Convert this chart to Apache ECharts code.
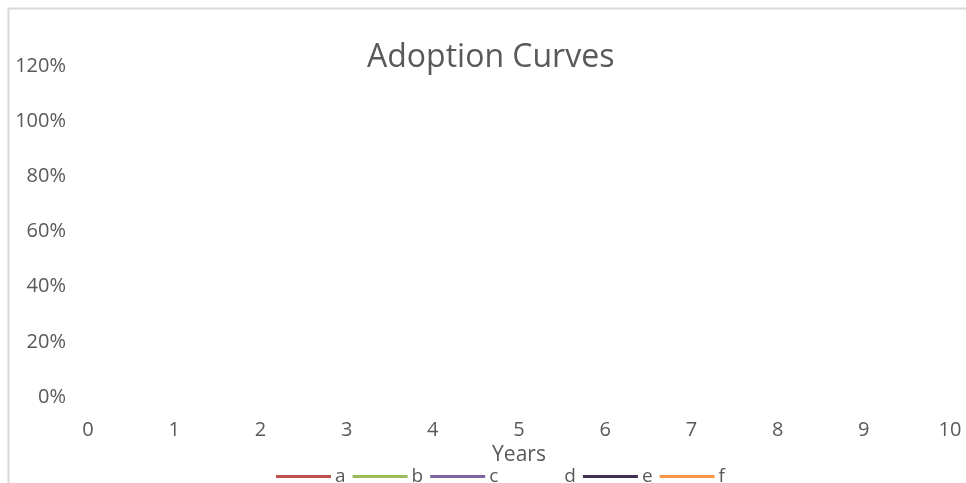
<!DOCTYPE html>
<html>
<head>
<meta charset="utf-8">
<style>
  html, body { margin: 0; padding: 0; background: #ffffff; }
  #chart { width: 966px; height: 483px; }
</style>
<script src="https://cdn.jsdelivr.net/npm/echarts@6/dist/echarts.min.js"></script>
</head>
<body>
<div id="chart"></div>
<script>
// Chart content (the reference plot shows no plotted points)
const titleText = 'Adoption Curves';
const xAxisName = 'Years';
const xTicks = [0, 1, 2, 3, 4, 5, 6, 7, 8, 9, 10];
const yTicks = [0, 0.2, 0.4, 0.6, 0.8, 1.0, 1.2];
const seriesNames = ['a', 'b', 'c', 'd', 'e', 'f'];
const seriesA = [];
const seriesB = [];
const seriesC = [];
const seriesD = [];
const seriesE = [];
const seriesF = [];
const seriesValues = [seriesA, seriesB, seriesC, seriesD, seriesE, seriesF];
const seriesColors = ['#c0504d', '#9bbb59', '#8064a2', 'rgba(255,255,255,0)', '#403152', '#f79646'];

const FONT = 'Open Sans';
const TXT = '#595959';

const chart = echarts.init(document.getElementById('chart'), null, { renderer: 'canvas' });

const series = seriesNames.map((name, i) => ({
  name: name,
  type: 'line',
  showSymbol: false,
  symbol: 'none',
  data: seriesValues[i],
  lineStyle: { color: seriesColors[i], width: 3 },
  itemStyle: { color: seriesColors[i] }
}));

chart.setOption({
  animation: false,
  backgroundColor: '#ffffff',
  graphic: [{
    type: 'rect',
    shape: { x: 8.5, y: 8.5, width: 1200, height: 1200 },
    style: { fill: 'none', stroke: '#d9d9d9', lineWidth: 2 },
    silent: true,
    z: -1
  }],
  title: {
    text: titleText,
    left: 367,
    top: 42,
    padding: 0,
    textStyle: { fontFamily: FONT, fontSize: 32, fontWeight: 'normal', color: TXT }
  },
  legend: {
    data: seriesNames,
    left: 276,
    top: 467,
    padding: 0,
    icon: 'rect',
    itemWidth: 55,
    itemHeight: 3,
    itemGap: 7,
    textStyle: { fontFamily: FONT, fontSize: 19, color: TXT, padding: [0, 0, 0, -1] }
  },
  grid: { left: 88, right: 16, top: 66, bottom: 86, containLabel: false },
  xAxis: {
    type: 'value',
    min: xTicks[0],
    max: xTicks[xTicks.length - 1],
    interval: 1,
    name: xAxisName,
    nameLocation: 'middle',
    nameGap: 40,
    nameTextStyle: { fontFamily: FONT, fontSize: 21, color: TXT },
    axisLine: { show: false },
    axisTick: { show: false },
    splitLine: { show: false },
    axisLabel: {
      margin: 23,
      fontFamily: FONT,
      fontSize: 20,
      color: TXT,
      formatter: v => (v === 5 ? '{r|5}' : String(v)),
      rich: { r: { fontFamily: FONT, fontSize: 20, color: TXT, padding: [0, 0, 4, 0] } }
    }
  },
  yAxis: {
    type: 'value',
    min: yTicks[0],
    max: yTicks[yTicks.length - 1],
    interval: 0.2,
    axisLine: { show: false },
    axisTick: { show: false },
    splitLine: { show: false },
    axisLabel: {
      margin: 22,
      fontFamily: FONT,
      fontSize: 20,
      color: TXT,
      formatter: v => Math.round(v * 100) + '%'
    }
  },
  series: series
});
</script>
</body>
</html>
